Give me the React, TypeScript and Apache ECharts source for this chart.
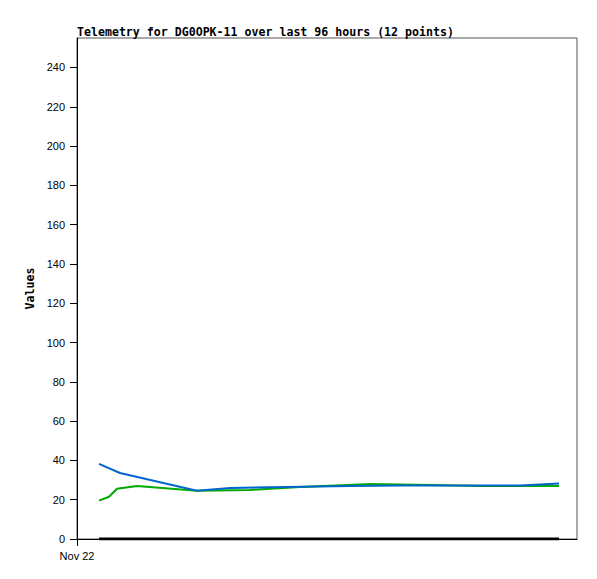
import React, { useEffect, useRef } from "react";
import * as echarts from "echarts";

// x values are hours after Nov 22 00:00 (axis spans 0..100)
const blueX = [4.4, 8.6, 24.0, 30.6, 54.6, 64.6, 88.6, 96.4];
const blueY = [38.2, 33.6, 24.6, 26.0, 27.0, 27.2, 27.2, 28.2];
const greenX = [4.4, 6.4, 8.0, 12.0, 24.0, 34.6, 44.6, 58.6, 70.6, 80.6, 96.4];
const greenY = [19.5, 21.5, 25.6, 27.0, 24.6, 25.0, 26.5, 28.0, 27.5, 27.0, 27.0];
const zeroX = [4.4, 96.4];
const zeroY = [0, 0];
const yTicks = [0, 20, 40, 60, 80, 100, 120, 140, 160, 180, 200, 220, 240];
const xTickLabels = ["Nov 22"];

const zip = (xs: number[], ys: number[]) => xs.map((x, i) => [x, ys[i]]);

export default function App() {
  const ref = useRef<HTMLDivElement>(null);
  useEffect(() => {
    const chart = echarts.init(ref.current!, null, { renderer: "svg" });
    const mono = "'DejaVu Sans Mono', 'Liberation Mono', monospace";
    const sans = "'Liberation Sans', Arial, sans-serif";
    chart.setOption({
      animation: false,
      backgroundColor: "#fff",
      title: {
        text: "Telemetry for DG0OPK-11 over last 96 hours (12 points)",
        left: 77,
        top: 26,
        padding: 0,
        textStyle: { fontFamily: mono, fontSize: 11.6, fontWeight: "bold", color: "#000" },
      },
      grid: {
        left: 77,
        top: 38,
        right: 20,
        bottom: 40,
        show: true,
        borderColor: "#555",
        borderWidth: 1,
        backgroundColor: "transparent",
      },
      xAxis: {
        type: "value",
        min: 0,
        max: 100,
        splitLine: { show: false },
        axisLine: { show: true, onZero: false, lineStyle: { color: "#000", width: 1 } },
        axisTick: { show: true, length: 7, customValues: [0], lineStyle: { color: "#000" } },
        axisLabel: {
          customValues: [0],
          formatter: () => xTickLabels[0],
          fontFamily: sans,
          fontSize: 11,
          color: "#000",
          margin: 11,
        },
      },
      yAxis: {
        type: "value",
        min: 0,
        max: 255,
        interval: 20,
        name: "Values",
        nameLocation: "middle",
        nameGap: 40,
        nameTextStyle: { fontFamily: mono, fontSize: 11.6, fontWeight: "bold", color: "#000" },
        splitLine: { show: false },
        axisLine: { show: true, lineStyle: { color: "#000", width: 1 } },
        axisTick: { show: true, length: 7, customValues: yTicks, lineStyle: { color: "#000" } },
        axisLabel: {
          customValues: yTicks,
          fontFamily: sans,
          fontSize: 11,
          color: "#000",
          margin: 12,
        },
      },
      series: [
        {
          type: "line",
          data: zip(zeroX, zeroY),
          showSymbol: false,
          lineStyle: { color: "#000", width: 3 },
          z: 2,
        },
        {
          type: "line",
          data: zip(greenX, greenY),
          showSymbol: false,
          lineStyle: { color: "#00aa00", width: 2 },
          z: 3,
        },
        {
          type: "line",
          data: zip(blueX, blueY),
          showSymbol: false,
          lineStyle: { color: "#0066cc", width: 2 },
          z: 4,
        },
      ],
    });
    return () => chart.dispose();
  }, []);
  return (
    <div
      ref={ref}
      style={{ position: "fixed", left: 0, top: 0, width: 597, height: 579 }}
    />
  );
}
